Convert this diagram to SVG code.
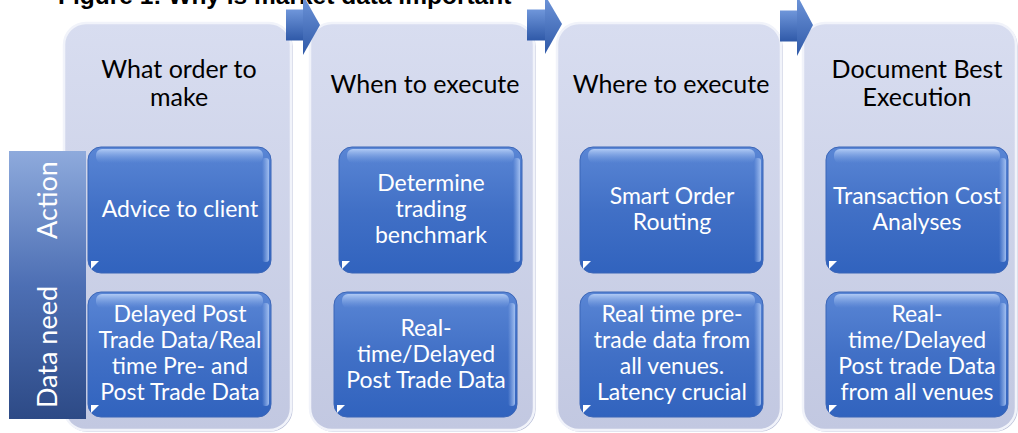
<svg xmlns="http://www.w3.org/2000/svg" width="1018" height="433" viewBox="0 0 1018 433">
<defs>
<linearGradient id="gPanel" x1="0" y1="0" x2="0" y2="1">
<stop offset="0" stop-color="#d8ddf0"/>
<stop offset="1" stop-color="#c2c8e1"/>
</linearGradient>
<linearGradient id="gBox" x1="0" y1="0" x2="0" y2="1">
<stop offset="0" stop-color="#5a86d5"/>
<stop offset="0.5" stop-color="#4170c6"/>
<stop offset="1" stop-color="#3163be"/>
</linearGradient>
<linearGradient id="gHi" x1="0" y1="0" x2="0" y2="1">
<stop offset="0" stop-color="#b4cdf6" stop-opacity="0.95"/>
<stop offset="1" stop-color="#7fa4e4" stop-opacity="0"/>
</linearGradient>
<linearGradient id="gEdge" x1="0" y1="0" x2="1" y2="0">
<stop offset="0" stop-color="#9fbcef" stop-opacity="0"/>
<stop offset="1" stop-color="#a9c5f3" stop-opacity="0.9"/>
</linearGradient>
<linearGradient id="gSide" x1="0" y1="0" x2="0" y2="1">
<stop offset="0" stop-color="#8eaadc"/>
<stop offset="0.5" stop-color="#4d6fb4"/>
<stop offset="1" stop-color="#2d4a86"/>
</linearGradient>
<linearGradient id="gArrow" x1="0" y1="0" x2="0" y2="1">
<stop offset="0" stop-color="#6f96da"/>
<stop offset="1" stop-color="#2f59a8"/>
</linearGradient>
</defs>
<style>
.panel{fill:url(#gPanel);stroke:#f1f3fa;stroke-width:2.5}
.pshadow{fill:none;stroke:#b9bfd8;stroke-width:1.2}
.box{fill:url(#gBox);stroke:#3b66b8;stroke-width:1}
.hi{fill:url(#gHi)}
.edge{fill:url(#gEdge)}
.tri{fill:#ffffff}
.arrow{fill:url(#gArrow)}
.h{font-family:Lato,"Noto Sans",sans-serif;font-size:25px;fill:#000;text-anchor:middle}
.t{font-family:Lato,"Noto Sans",sans-serif;font-size:23px;fill:#fff;text-anchor:middle}
.s{font-family:Lato,"Noto Sans",sans-serif;font-size:27px;fill:#fff;text-anchor:middle}
.title{font-family:"Liberation Sans",Arial,sans-serif;font-size:24.5px;font-weight:bold;fill:#000}
</style>

<text class="title" x="58" y="4">Figure 1: Why is market data important</text>

<g id="col1">
<rect class="pshadow" x="65" y="24" width="227" height="407" rx="22"/>
<rect class="panel" x="64" y="23" width="227" height="407" rx="22"/>
<text class="h" x="179" y="78">What order to</text>
<text class="h" x="179" y="106">make</text>
</g>
<g id="col2">
<rect class="pshadow" x="311" y="24" width="224" height="407" rx="22"/>
<rect class="panel" x="310" y="23" width="224" height="407" rx="22"/>
<text class="h" x="425" y="93">When to execute</text>
</g>
<g id="col3">
<rect class="pshadow" x="558" y="24" width="224" height="407" rx="22"/>
<rect class="panel" x="557" y="23" width="224" height="407" rx="22"/>
<text class="h" x="671" y="93">Where to execute</text>
</g>
<g id="col4">
<rect class="pshadow" x="804" y="24" width="213" height="407" rx="22"/>
<rect class="panel" x="803" y="23" width="213" height="407" rx="22"/>
<text class="h" x="917" y="78">Document Best</text>
<text class="h" x="917" y="106">Execution</text>
</g>

<g id="connectors">
<rect class="arrow" x="286" y="9.5" width="18" height="31"/>
<polygon class="arrow" points="303,-5 320,25 303,55"/>
<rect class="arrow" x="527" y="9.5" width="19" height="31"/>
<polygon class="arrow" points="545,-5 562,24 545,54"/>
<rect class="arrow" x="780" y="10.5" width="18" height="31"/>
<polygon class="arrow" points="797,-5 813,25 797,56"/>
</g>

<g id="rowlabels">
<rect x="9" y="151" width="77" height="268" fill="url(#gSide)"/>
<text class="s" transform="translate(57,200) rotate(-90)">Action</text>
<text class="s" transform="translate(57,347) rotate(-90)">Data need</text>
</g>

<g id="a1">
<rect class="box" x="88" y="147" width="183" height="126" rx="13"/>
<rect class="hi" x="96" y="149" width="167" height="14" rx="6"/>
<rect class="edge" x="262" y="158" width="7" height="104" rx="3"/>
<polygon class="tri" points="91,261 91,269 99,261"/>
<text class="t" x="180" y="217">Advice to client</text>
</g>
<g id="d1">
<rect class="box" x="88" y="292" width="183" height="125" rx="13"/>
<rect class="hi" x="96" y="294" width="167" height="14" rx="6"/>
<rect class="edge" x="262" y="303" width="7" height="103" rx="3"/>
<polygon class="tri" points="91,405 91,413 99,405"/>
<text class="t" x="180" y="322">Delayed Post</text>
<text class="t" x="180" y="348">Trade Data/Real</text>
<text class="t" x="180" y="374">time Pre- and</text>
<text class="t" x="180" y="400">Post Trade Data</text>
</g>

<g id="a2">
<rect class="box" x="339" y="147" width="183" height="126" rx="13"/>
<rect class="hi" x="347" y="149" width="167" height="14" rx="6"/>
<rect class="edge" x="513" y="158" width="7" height="104" rx="3"/>
<polygon class="tri" points="342,261 342,269 350,261"/>
<text class="t" x="431" y="191">Determine</text>
<text class="t" x="431" y="217">trading</text>
<text class="t" x="431" y="243">benchmark</text>
</g>
<g id="d2">
<rect class="box" x="334" y="292" width="183" height="125" rx="13"/>
<rect class="hi" x="342" y="294" width="167" height="14" rx="6"/>
<rect class="edge" x="508" y="303" width="7" height="103" rx="3"/>
<polygon class="tri" points="337,405 337,413 345,405"/>
<text class="t" x="426" y="336">Real-</text>
<text class="t" x="426" y="362">time/Delayed</text>
<text class="t" x="426" y="388">Post Trade Data</text>
</g>

<g id="a3">
<rect class="box" x="580" y="147" width="183" height="126" rx="13"/>
<rect class="hi" x="588" y="149" width="167" height="14" rx="6"/>
<rect class="edge" x="754" y="158" width="7" height="104" rx="3"/>
<polygon class="tri" points="583,261 583,269 591,261"/>
<text class="t" x="672" y="204">Smart Order</text>
<text class="t" x="672" y="230">Routing</text>
</g>
<g id="d3">
<rect class="box" x="580" y="292" width="183" height="125" rx="13"/>
<rect class="hi" x="588" y="294" width="167" height="14" rx="6"/>
<rect class="edge" x="754" y="303" width="7" height="103" rx="3"/>
<polygon class="tri" points="583,405 583,413 591,405"/>
<text class="t" x="672" y="322">Real time pre-</text>
<text class="t" x="672" y="348">trade data from</text>
<text class="t" x="672" y="374">all venues.</text>
<text class="t" x="672" y="400">Latency crucial</text>
</g>

<g id="a4">
<rect class="box" x="826" y="147" width="182" height="126" rx="13"/>
<rect class="hi" x="834" y="149" width="166" height="14" rx="6"/>
<rect class="edge" x="999" y="158" width="7" height="104" rx="3"/>
<polygon class="tri" points="829,261 829,269 837,261"/>
<text class="t" x="917" y="204">Transaction Cost</text>
<text class="t" x="917" y="230">Analyses</text>
</g>
<g id="d4">
<rect class="box" x="826" y="292" width="182" height="125" rx="13"/>
<rect class="hi" x="834" y="294" width="166" height="14" rx="6"/>
<rect class="edge" x="999" y="303" width="7" height="103" rx="3"/>
<polygon class="tri" points="829,405 829,413 837,405"/>
<text class="t" x="917" y="322">Real-</text>
<text class="t" x="917" y="348">time/Delayed</text>
<text class="t" x="917" y="374">Post trade Data</text>
<text class="t" x="917" y="400">from all venues</text>
</g>
</svg>
